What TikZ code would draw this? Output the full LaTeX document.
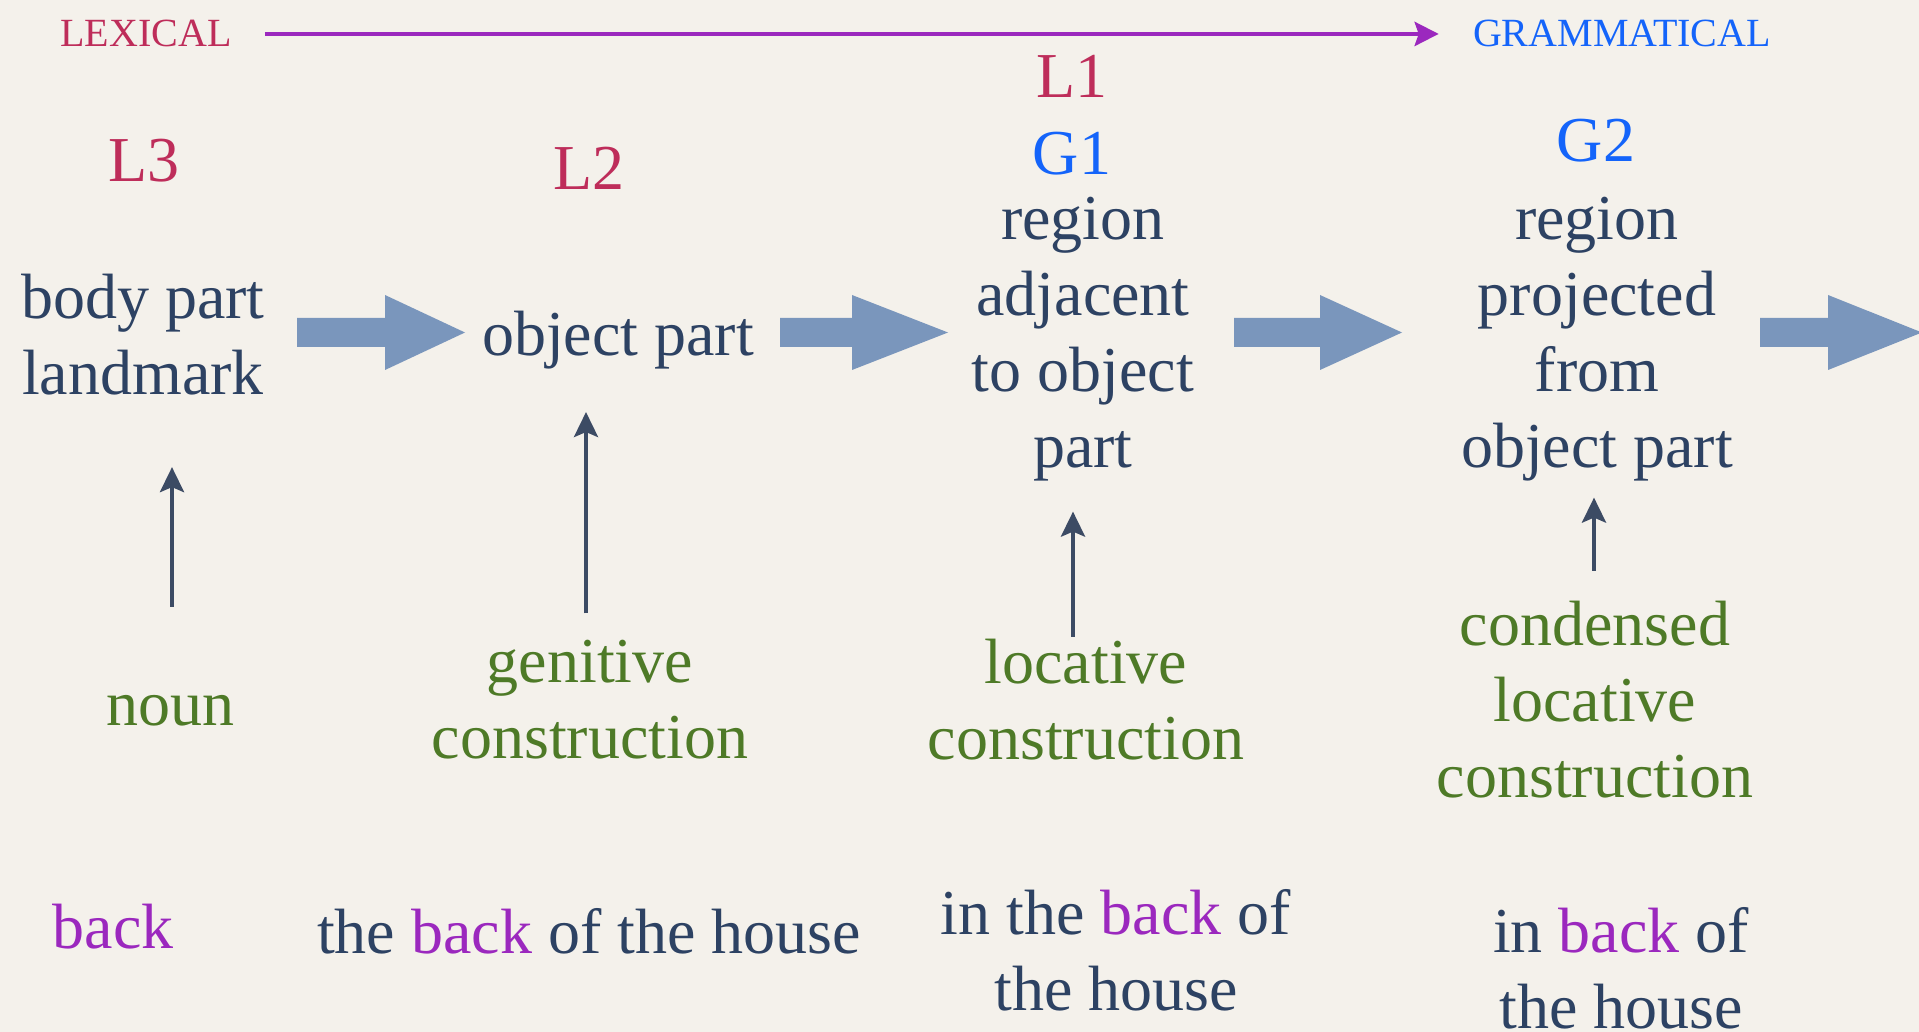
\documentclass[tikz,border=0pt]{standalone}
\usepackage{fontspec}
\setmainfont{Liberation Serif}
\usetikzlibrary{arrows.meta}

\definecolor{paper}{HTML}{F4F1EB}
\definecolor{slate}{HTML}{2D4263}
\definecolor{moss}{HTML}{4E7A27}
\definecolor{crimson}{HTML}{BE2D5A}
\definecolor{gblue}{HTML}{1464FA}
\definecolor{backpurple}{HTML}{9B28BE}
\definecolor{arrowblue}{HTML}{7A96BC}
\definecolor{stemcol}{HTML}{3C4B64}

\newcommand{\bk}{\textcolor{backpurple}{back}}

\tikzset{
  txt/.style={inner sep=0pt, font=\fontsize{32}{38}\selectfont, align=center},
  sem/.style={txt, text=slate},
  form/.style={txt, text=moss},
  level/.style={txt, text=crimson, anchor=base},
  glevel/.style={txt, text=gblue, anchor=base},
  topword/.style={inner sep=0pt, font=\fontsize{20}{24}\selectfont, anchor=base},
  stemarrow/.style={draw=stemcol, line width=2pt, -{Stealth[length=12.5pt,width=12pt,inset=2.5pt]}}
}

\begin{document}
\begin{tikzpicture}[x=0.5pt, y=-0.5pt]

\useasboundingbox (0,0) rectangle (1919,1032);
\fill[paper] (0,0) rectangle (1919,1032);

% Lexical to grammatical
\node[topword, text=crimson] (lexical) at (146,47) {LEXICAL};
\node[topword, text=gblue] (grammatical) at (1622,47) {GRAMMATICAL};
\draw[backpurple, line width=2.25pt, -{Stealth[length=12pt,width=12pt,inset=2pt]},
  shorten <=16.5pt, shorten >=17pt] (lexical) -- (grammatical);

% Levels
\node[level] (lthree) at (144,182) {L3};
\node[level] (ltwo) at (589,190) {L2};
\node[level] (lone) at (1072,98) {L1};
\node[glevel] (gone) at (1072,175) {G1};
\node[glevel] (gtwo) at (1596,162) {G2};

% Meanings
\node[sem] (bodypart) at (143,334.2) {body part\\landmark};
\node[sem, anchor=base] (objpart) at (618,356) {object part};
\node[sem] (adjacent) at (1083,339.2) {region\\adjacent\\to object\\part};
\node[sem] (projected) at (1597,339.2) {region\\projected\\from\\object part};

% Block arrows
\foreach \s/\h/\t in {297/385/465, 780/852/948, 1234/1320/1402, 1760/1828/1922}
  \fill[arrowblue] (\s,318) -- (\h,318) -- (\h,295) -- (\t,332.5)
    -- (\h,370) -- (\h,347) -- (\s,347) -- cycle;

% Forms
\node[form, anchor=base] (noun) at (170,725) {noun};
\node[form] (genitive) at (590,699.7) {genitive\\construction};
\node[form] (locative) at (1086,699.7) {locative\\construction};
\node[form] (condensed) at (1595,699.7) {condensed\\locative\\construction};

% Small arrows
\coordinate (nounstem) at ([xshift=1pt]noun.north);
\coordinate (genstem) at ([xshift=-2pt]genitive.north);
\coordinate (locstem) at ([xshift=-6.5pt]locative.north);
\coordinate (condstem) at ([xshift=-0.5pt]condensed.north);
\draw[stemarrow, shorten <=43.8pt, shorten >=36pt] (nounstem) -- (nounstem |- bodypart.south);
\draw[stemarrow, shorten <=13.2pt, shorten >=21pt] (genstem) -- (genstem |- objpart.south);
\draw[stemarrow, shorten <=1pt, shorten >=15pt] (locstem) -- (locstem |- adjacent.south);
\draw[stemarrow, shorten <=15pt, shorten >=8pt] (condstem) -- (condstem |- projected.south);

% Examples
\node[sem, anchor=base] (exnoun) at (113,948) {\bk};
\node[sem, anchor=base] (exgen) at (589,953) {the \bk{} of the house};
\node[sem] (exloc) at (1116,950.2) {in the \bk{} of\\the house};
\node[sem] (excond) at (1621,968.2) {in \bk{} of\\the house};

\end{tikzpicture}
\end{document}
